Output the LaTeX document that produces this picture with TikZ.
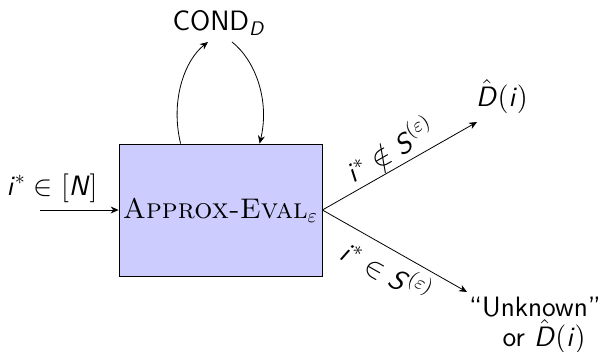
\documentclass[tikz,border=0pt]{standalone}
\usepackage{amsmath}
\usetikzlibrary{arrows.meta,calc}
\newcommand{\si}[1]{\textsf{\itshape #1\/}}
\begin{document}
\begin{tikzpicture}[x=0.5pt,y=-0.5pt,
  lbl/.style={font=\fontsize{14}{16}\selectfont\sffamily, inner sep=1pt},
  arr/.style={-{Stealth[length=4pt,width=3.5pt]}, line width=0.4pt},
  mainbox/.style={draw, fill=blue!20, minimum width=101.5pt, minimum height=66pt, inner sep=0pt, font=\fontsize{14.2}{17}\selectfont}]
\useasboundingbox (0,0) rectangle (599,352);
\node[mainbox] (box) at (220.5,210) {\textsc{Approx-Eval}$_\varepsilon$};
\node[lbl] (cond) at (219,23) {COND$_{\si{D}}$};
\node[lbl] (dhat) at (502,97) {$\hat{\si{D}}(\si{i})$};
\node[lbl, align=center] (unk) at (535,325) {``Unknown''\\[-1pt]\ \ or $\hat{\si{D}}(\si{i})$};
\node[lbl] (inlbl) at (52,188) {$\si{i}^*\in[\si{N}]$};
\coordinate (src) at (40,210);
\coordinate (upend) at (477,122);
\coordinate (downend) at (467,292);
\coordinate (condL) at (208,42);
\coordinate (condR) at (232,42);
\draw[arr] (src) -- (box.west);
\draw[arr] ($(box.north west)+(62,0)$) .. controls (170,100) and (185,60) .. (condL);
\draw[arr] (condR) .. controls (255,60) and (270,100) .. ($(box.north west)+(141,0)$);
\draw[arr] (box.east) -- node[lbl, sloped, above, pos=0.5, inner sep=3pt] {$\si{i}^*\notin \si{S}^{(\varepsilon)}$} (upend);
\draw[arr] (box.east) -- node[lbl, sloped, below, pos=0.52, inner sep=3pt] {$\si{i}^*\in \si{S}^{(\varepsilon)}$} (downend);
\end{tikzpicture}
\end{document}
